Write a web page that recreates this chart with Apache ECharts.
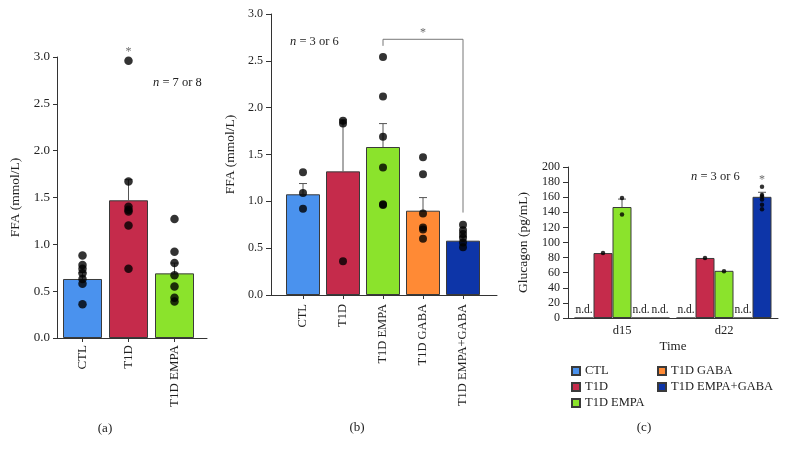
<!DOCTYPE html>
<html><head><meta charset="utf-8">
<script src="https://cdn.jsdelivr.net/npm/echarts@6/dist/echarts.min.js"></script>
<style>html,body{margin:0;padding:0;background:#fff}#c{width:786px;height:455px}</style>
</head><body><div id="c"></div>
<script>
// ---------- DATA ----------
const catsA = ['CTL', 'T1D', 'T1D EMPA'];
const meanA = [0.63, 1.47, 0.69];
const errA = [0.70, 1.69, 0.80];
const dotsA_CTL = [0.88, 0.78, 0.74, 0.69, 0.63, 0.58, 0.36];
const dotsA_T1D = [2.96, 1.67, 1.40, 1.37, 1.35, 1.20, 0.74];
const dotsA_EMPA = [1.27, 0.92, 0.80, 0.67, 0.55, 0.43, 0.39];

const catsB = ['CTL', 'T1D', 'T1D EMPA', 'T1D GABA', 'T1D EMPA+GABA'];
const meanB = [1.075, 1.32, 1.58, 0.90, 0.58];
const errB = [1.19, 1.87, 1.83, 1.04, 0.62];
const dotsB_CTL = [1.31, 1.09, 0.92];
const dotsB_T1D = [1.86, 1.83, 0.36];
const dotsB_EMPA = [2.54, 2.12, 1.69, 1.36, 0.97, 0.96];
const dotsB_GABA = [1.47, 1.29, 0.87, 0.72, 0.70, 0.60];
const dotsB_EG = [0.75, 0.69, 0.65, 0.61, 0.56, 0.51];
const bracketB = [[2, 2.66], [2, 2.73], [4, 2.73], [4, 0.88]];

const catsC = ['d15', 'd22'];
const groupsC = ['CTL', 'T1D', 'T1D EMPA', 'T1D GABA', 'T1D EMPA+GABA'];
const valC_CTL = [null, null];
const valC_T1D = [86, 79.5];
const valC_EMPA = [147, 62.5];
const valC_GABA = [null, null];
const valC_EG = [null, 160.5];
const errC_EMPA = [157.5, null];
const errC_EG = [null, 166.5];
const dotsC_T1D = [[86], [79.5]];
const dotsC_EMPA = [[159, 137], [62]];
const dotsC_EG = [[], [174, 163, 161, 157, 150, 144]];

const colors = ['#4a92ee', '#c52b4b', '#8be32c', '#ff8a35', '#0d35a8'];

// ---------- HELPERS ----------
const FONT = "'Liberation Serif', 'DejaVu Serif', serif";
const TXT = '#222';
function dotPairs(lists) {
  const out = [];
  lists.forEach((l, i) => l.forEach(v => out.push([i, v])));
  return out;
}
function errRender(offset) {
  return function (params, api) {
    const e = api.value(2);
    if (e == null || isNaN(e)) return null;
    const b = api.coord([api.value(0), api.value(1)]);
    const t = api.coord([api.value(0), e]);
    const cx = b[0] + offset;
    const st = { stroke: '#555', lineWidth: 1 };
    return { type: 'group', children: [
      { type: 'line', shape: { x1: cx, y1: b[1], x2: cx, y2: t[1] }, style: st },
      { type: 'line', shape: { x1: cx - 4, y1: t[1], x2: cx + 4, y2: t[1] }, style: st }
    ]};
  };
}
function frameX(gi) {
  return { type: 'value', gridIndex: gi, min: 0, max: 1, axisLine: { show: true, lineStyle: { color: '#333' } },
    axisTick: { show: false }, axisLabel: { show: false }, splitLine: { show: false } };
}
function frameY(gi, max, interval, name, gap, dec, fs, tick) {
  return { type: 'value', gridIndex: gi, min: 0, max: max, interval: interval,
    name: name, nameLocation: 'middle', nameGap: gap,
    nameTextStyle: { fontFamily: FONT, fontSize: 13.5, color: TXT },
    axisLine: { show: true, lineStyle: { color: '#333' } },
    axisTick: { show: true, length: tick, lineStyle: { color: '#333' } },
    axisLabel: { fontFamily: FONT, fontSize: fs, color: TXT, margin: tick + 3,
      formatter: v => v.toFixed(dec) },
    splitLine: { show: false } };
}
function hiddenY(gi, max) { return { type: 'value', gridIndex: gi, min: 0, max: max, show: false }; }
function catX(gi, cats, rotate, margin, ticks, fs) {
  return { type: 'category', gridIndex: gi, data: cats,
    axisLine: { show: false },
    axisTick: { show: ticks, alignWithLabel: true, length: 4, lineStyle: { color: '#333' } },
    axisLabel: { rotate: rotate, margin: margin, fontFamily: FONT, fontSize: fs, color: TXT },
    splitLine: { show: false } };
}
const barBorder = { borderColor: '#3a3a3a', borderWidth: 1 };

// ---------- SERIES ----------
const series = [];
// (a)
series.push({ type: 'bar', xAxisIndex: 1, yAxisIndex: 1, barWidth: 39,
  data: meanA.map((v, i) => ({ value: v, itemStyle: Object.assign({ color: colors[i] }, barBorder) })) });
series.push({ type: 'custom', xAxisIndex: 1, yAxisIndex: 1, z: 4, renderItem: errRender(0),
  encode: { x: 0, y: [1, 2] }, data: meanA.map((v, i) => [i, v, errA[i]]) });
series.push({ type: 'scatter', xAxisIndex: 1, yAxisIndex: 1, z: 5, symbolSize: 8.5,
  itemStyle: { color: '#000' },
  data: dotPairs([dotsA_CTL, dotsA_T1D, dotsA_EMPA]).map(p => {
    const isMax = p[0] === 1 && p[1] === Math.max(...dotsA_T1D);
    return isMax ? { value: p, label: { show: true, position: 'top', distance: -1, formatter: '*',
      fontFamily: FONT, fontSize: 12, color: '#444' } } : p;
  }) });
// (b)
series.push({ type: 'bar', xAxisIndex: 3, yAxisIndex: 3, barWidth: 34,
  data: meanB.map((v, i) => ({ value: v, itemStyle: Object.assign({ color: colors[i] }, barBorder) })) });
series.push({ type: 'custom', xAxisIndex: 3, yAxisIndex: 3, z: 4, renderItem: errRender(0),
  encode: { x: 0, y: [1, 2] }, data: meanB.map((v, i) => [i, v, errB[i]]) });
series.push({ type: 'scatter', xAxisIndex: 3, yAxisIndex: 3, z: 5, symbolSize: 8,
  itemStyle: { color: '#000' },
  data: dotPairs([dotsB_CTL, dotsB_T1D, dotsB_EMPA, dotsB_GABA, dotsB_EG]) });
series.push({ type: 'line', xAxisIndex: 3, yAxisIndex: 3, z: 3, symbol: 'none',
  lineStyle: { color: '#777', width: 1 }, data: bracketB });
series.push({ type: 'scatter', xAxisIndex: 3, yAxisIndex: 3, z: 5, symbolSize: 0,
  data: [{ value: [3, bracketB[1][1]], label: { show: true, position: 'top', distance: 0, formatter: '*',
    fontFamily: FONT, fontSize: 12, color: '#444' } }] });
// (c)
const valsC = [valC_CTL, valC_T1D, valC_EMPA, valC_GABA, valC_EG];
const bw = 19;
valsC.forEach((vals, s) => {
  series.push({ type: 'bar', name: groupsC[s], xAxisIndex: 5, yAxisIndex: 5, barWidth: bw, barGap: '0%',
    itemStyle: Object.assign({ color: colors[s] }, barBorder),
    data: vals.map(v => v == null ? { value: 0, label: { show: true, position: 'top', distance: 2,
      formatter: 'n.d.', fontFamily: FONT, fontSize: 11.5, color: TXT } } : v) });
});
const offC = s => (s - 2) * bw;
[[2, errC_EMPA], [4, errC_EG]].forEach(([s, errs]) => {
  series.push({ type: 'custom', xAxisIndex: 5, yAxisIndex: 5, z: 4, renderItem: errRender(offC(s)),
    encode: { x: 0, y: [1, 2] },
    data: valsC[s].map((v, i) => [i, v == null ? 0 : v, errs[i] == null ? NaN : errs[i]]) });
});
[[1, dotsC_T1D], [2, dotsC_EMPA], [4, dotsC_EG]].forEach(([s, lists]) => {
  const pairs = dotPairs(lists);
  const mx = Math.max(...pairs.map(p => p[1]));
  series.push({ type: 'scatter', xAxisIndex: 5, yAxisIndex: 5, z: 5, symbolSize: 4.5,
    symbolOffset: [offC(s), 0], itemStyle: { color: '#000' },
    data: pairs.map(p => (s === 4 && p[1] === mx) ? { value: p, label: { show: true, position: 'top',
      distance: -1, formatter: '*', fontFamily: FONT, fontSize: 12, color: '#444' } } : p) });
});

// ---------- TEXTS ----------
function nText(x, y, rest) {
  return { type: 'text', left: x, top: y, style: { text: '{i|n} = ' + rest,
    fontFamily: FONT, fontSize: 12.5, fill: TXT,
    rich: { i: { fontFamily: FONT, fontSize: 12.5, fontStyle: 'italic', fill: TXT } } } };
}
function panelLabel(x, y, t) {
  return { type: 'text', x: x, y: y, style: { text: t, fontFamily: FONT, fontSize: 13, fill: TXT,
    align: 'center', verticalAlign: 'middle' } };
}

const legendCommon = { orient: 'vertical', icon: 'rect', itemWidth: 8, itemHeight: 8, itemGap: 2,
  itemTextGap: 5, textStyle: { fontFamily: FONT, fontSize: 12.5, color: TXT, lineHeight: 14 },
  selectedMode: false };

const option = {
  animation: false,
  backgroundColor: '#fff',
  grid: [
    { left: 57, top: 57, width: 150, height: 281 },
    { left: 59.5, top: 57, width: 138, height: 281 },
    { left: 271, top: 14, width: 226, height: 281 },
    { left: 283, top: 14, width: 200, height: 281 },
    { left: 568, top: 167, width: 210, height: 151 },
    { left: 571, top: 167, width: 204, height: 151 }
  ],
  xAxis: [
    frameX(0),
    catX(1, catsA, 90, 7, true, 13),
    frameX(2),
    catX(3, catsB, 90, 9, true, 12.5),
    frameX(4),
    Object.assign(catX(5, catsC, 0, 6, false, 12.5), { name: 'Time', nameLocation: 'middle', nameGap: 22,
      nameTextStyle: { fontFamily: FONT, fontSize: 13, color: TXT } })
  ],
  yAxis: [
    frameY(0, 3, 0.5, 'FFA (mmol/L)', 35, 1, 13, 4),
    hiddenY(1, 3),
    frameY(2, 3, 0.5, 'FFA (mmol/L)', 34, 1, 12, 5),
    hiddenY(3, 3),
    frameY(4, 200, 20, 'Glucagon (pg/mL)', 38, 0, 12, 5),
    hiddenY(5, 200)
  ],
  legend: [
    Object.assign({ left: 566, top: 359, data: ['CTL', 'T1D', 'T1D EMPA'] }, legendCommon),
    Object.assign({ left: 652, top: 359, data: ['T1D GABA', 'T1D EMPA+GABA'] }, legendCommon)
  ],
  graphic: [
    nText(153, 76, '7 or 8'),
    nText(290, 35, '3 or 6'),
    nText(691, 170, '3 or 6'),
    panelLabel(105, 429, '(a)'),
    panelLabel(357, 428, '(b)'),
    panelLabel(644, 428, '(c)')
  ],
  series: series
};
const chart = echarts.init(document.getElementById('c'), null, { renderer: 'canvas' });
chart.setOption(option);
</script></body></html>
